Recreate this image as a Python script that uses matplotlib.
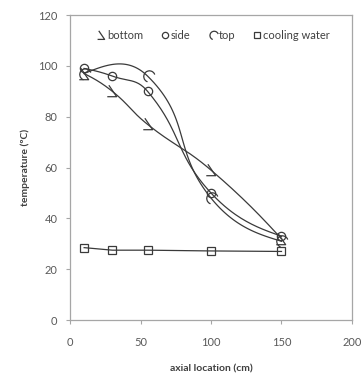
import matplotlib
matplotlib.use("Agg")
import matplotlib.pyplot as plt
import numpy as np
from matplotlib.path import Path

plt.rcParams['font.family'] = ['Lato', 'DejaVu Sans']

# data
x_pts = [10, 30, 55, 100, 150]
bottom = [97, 90, 77, 59, 32]
side = [99, 96, 90, 50, 33]
x_top = [10, 55, 100, 150]
top = [97, 96, 48, 31]
cooling = [28.5, 27.5, 27.5, 27.2, 27.0]

xticks = [0, 50, 100, 150, 200]
yticks = [0, 20, 40, 60, 80, 100, 120]

INK = '#3a3a3a'
GRID = '#a6a6a6'

# pixels per data unit, so the smoothing behaves like excel's (done on screen)
SX, SY = 282 / 200.0, 305 / 120.0


#------------------------------------------------------------------
# excel-like smoothed line: bezier segments, control arms along the
# neighbour chord and scaled with the segment length, natural ends
#------------------------------------------------------------------
def smooth(x, y, k=0.45, n=40):
    p = np.column_stack([np.array(x) * SX, np.array(y) * SY]).astype(float)
    m = len(p)
    dirs = np.zeros_like(p)
    for i in range(1, m - 1):
        d = p[i + 1] - p[i - 1]
        dirs[i] = d / np.linalg.norm(d)
    out = []
    for i in range(m - 1):
        p1, p2 = p[i], p[i + 1]
        L = np.linalg.norm(p2 - p1)
        c1 = p1 + dirs[i] * k * L
        c2 = p2 - dirs[i + 1] * k * L
        if i == 0:
            c1 = (p1 + c2) / 2.0
        if i == m - 2:
            c2 = (p2 + c1) / 2.0
        t = np.linspace(0, 1, n)[:, None]
        seg = ((1 - t) ** 3) * p1 + 3 * ((1 - t) ** 2) * t * c1 + 3 * (1 - t) * t ** 2 * c2 + t ** 3 * p2
        out.append(seg)
    out = np.vstack(out)
    return out[:, 0] / SX, out[:, 1] / SY


# odd little glyph markers of the original chart
m_bottom = Path([(-0.35, 0.6), (0.4, -0.5), (-0.5, -0.5)],
                [Path.MOVETO, Path.LINETO, Path.LINETO])
arc = Path.arc(20, 250)
m_top = Path(arc.vertices * 0.6 + np.array([0.1, 0.0]), arc.codes)

fig = plt.figure(figsize=(3.61, 3.77), dpi=100)
ax = fig.add_axes([0.194, 0.151, 0.781, 0.809])

for xs, ys in [(x_pts, bottom), (x_pts, side), (x_top, top)]:
    sx, sy = smooth(xs, ys)
    ax.plot(sx, sy, color=INK, lw=0.9, zorder=2)
ax.plot(x_pts, cooling, color=INK, lw=0.9, zorder=2)

mk = dict(linestyle='none', markerfacecolor='none', markeredgecolor=INK, markeredgewidth=0.9, zorder=3)
ax.plot(x_pts, bottom, marker=m_bottom, markersize=9, label='bottom', **mk)
ax.plot(x_pts, side, marker='o', markersize=6, label='side', **mk)
ax.plot(x_top, top, marker=m_top, markersize=9, label='top', **mk)
ax.plot(x_pts, cooling, marker='s', markersize=5.5, label='cooling water', **mk)

ax.set_xlim(0, 200)
ax.set_ylim(0, 120)
ax.set_xticks(xticks)
ax.set_yticks(yticks)

for s in ax.spines.values():
    s.set_color(GRID)
    s.set_linewidth(0.9)
ax.tick_params(axis='both', direction='out', length=3, width=0.8, color=GRID,
               labelsize=8, labelcolor='#595959', pad=6)
ax.tick_params(axis='x', pad=9)

ax.set_xlabel('axial location (cm)', fontsize=7.5, fontweight='bold', color='#404040', labelpad=12)
ax.set_ylabel('temperature (ºC)', fontsize=7.5, fontweight='bold', color='#404040', labelpad=6)

leg = ax.legend(loc='upper center', bbox_to_anchor=(0.51, 0.985), ncol=4, frameon=False,
                fontsize=8, handlelength=0.6, handletextpad=0.2, columnspacing=1.7,
                markerscale=0.75)
for t in leg.get_texts():
    t.set_color('#404040')

fig.savefig('out.png', dpi=100)
